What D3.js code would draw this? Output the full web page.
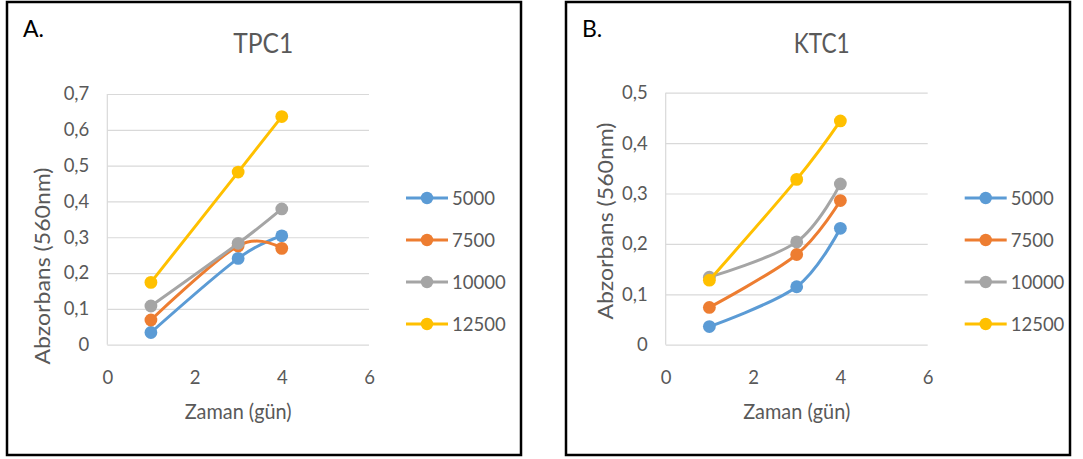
<!DOCTYPE html>
<html>
<head>
<meta charset="utf-8">
<script src="https://cdn.jsdelivr.net/npm/d3@7"></script>
<style>
  html, body { margin: 0; padding: 0; background: #fff; }
  svg { display: block; font-family: Lato, "Open Sans", sans-serif; }
</style>
</head>
<body>
<svg id="chart" width="1083" height="459"></svg>
<script>
// Sampling days (x axis)
const days = [1, 3, 4];

// Series (cell density) names and colours
const seriesNames = ["5000", "7500", "10000", "12500"];
const seriesColors = ["#5B9BD5", "#ED7D31", "#A5A5A5", "#FFC000"];

// TPC1 absorbance at 560 nm
const tpc5000  = [0.034, 0.241, 0.304];
const tpc7500  = [0.069, 0.276, 0.269];
const tpc10000 = [0.108, 0.283, 0.379];
const tpc12500 = [0.174, 0.482, 0.637];

// KTC1 absorbance at 560 nm
const ktc5000  = [0.036, 0.115, 0.231];
const ktc7500  = [0.074, 0.179, 0.286];
const ktc10000 = [0.134, 0.204, 0.319];
const ktc12500 = [0.128, 0.328, 0.444];

// Tick labels
const xTicks = [0, 2, 4, 6];
const tpcYTicks = [0, 0.1, 0.2, 0.3, 0.4, 0.5, 0.6, 0.7];
const ktcYTicks = [0, 0.1, 0.2, 0.3, 0.4, 0.5];

const xTitle = "Zaman (gün)";
const yTitle = "Abzorbans (560nm)";

const svg = d3.select("#chart");
const trLocale = d3.formatLocale({ decimal: ",", thousands: ".", grouping: [3], currency: ["", ""] });
const fmt = trLocale.format(".1~f");

const textGray = "#595959";
const gridGray = "#D9D9D9";

function drawPanel(p) {
  // Panel frame
  svg.append("rect")
    .attr("x", p.frame[0]).attr("y", p.frame[1])
    .attr("width", p.frame[2]).attr("height", p.frame[3])
    .attr("fill", "#fff").attr("stroke", "#000").attr("stroke-width", 2.5);

  const x = d3.scaleLinear().domain([0, 6]).range([p.left, p.right]);
  const y = d3.scaleLinear().domain([0, p.yMax]).range([p.bottom, p.top]);
  const w = p.right - p.left;

  // Horizontal gridlines + value labels
  const gy = svg.append("g").attr("transform", `translate(${p.left},0)`)
    .call(d3.axisLeft(y).tickValues(p.yTicks).tickFormat(fmt).tickSize(-w).tickPadding(18));
  gy.select(".domain").remove();
  gy.selectAll(".tick line").attr("stroke", gridGray).attr("stroke-width", 1.2);
  gy.selectAll(".tick text").attr("fill", textGray).attr("font-size", 18.5)
    .attr("font-family", "Lato, sans-serif");

  // Vertical value axis line at x = 0
  svg.append("line")
    .attr("x1", x(0)).attr("x2", x(0)).attr("y1", y(0)).attr("y2", y(p.yMax))
    .attr("stroke", gridGray).attr("stroke-width", 1.2);

  // Category (day) labels
  const gx = svg.append("g").attr("transform", `translate(0,${p.bottom})`)
    .call(d3.axisBottom(x).tickValues(xTicks).tickFormat(d3.format("d")).tickSize(0).tickPadding(26));
  gx.select(".domain").remove();
  gx.selectAll(".tick text").attr("fill", textGray).attr("font-size", 18.5)
    .attr("font-family", "Lato, sans-serif");

  // Series lines (smoothed) and markers
  const line = d3.line().x((d, i) => x(days[i])).y(d => y(d)).curve(d3.curveCardinal.tension(0));
  p.series.forEach((vals, k) => {
    svg.append("path").datum(vals)
      .attr("d", line).attr("fill", "none")
      .attr("stroke", seriesColors[k]).attr("stroke-width", 3)
      .attr("stroke-linejoin", "round").attr("stroke-linecap", "round");
    svg.append("g").selectAll("circle").data(vals).join("circle")
      .attr("cx", (d, i) => x(days[i])).attr("cy", d => y(d)).attr("r", 6.4)
      .attr("fill", seriesColors[k]);
  });

  // Legend
  const legY = d3.scalePoint().domain(seriesNames).range([198, 324]);
  seriesNames.forEach((name, k) => {
    const ly = legY(name);
    svg.append("line")
      .attr("x1", p.right + 37).attr("x2", p.right + 79).attr("y1", ly).attr("y2", ly)
      .attr("stroke", seriesColors[k]).attr("stroke-width", 3);
    svg.append("circle").attr("cx", p.right + 58).attr("cy", ly).attr("r", 6.2)
      .attr("fill", seriesColors[k]);
    svg.append("text").attr("x", p.right + 83).attr("y", ly).attr("dy", "0.36em")
      .attr("fill", textGray).attr("font-size", 18.5).text(name);
  });

  // Chart title
  svg.append("text").attr("x", p.left + 156).attr("y", 53)
    .attr("text-anchor", "middle").attr("fill", textGray).attr("font-size", 27)
    .attr("textLength", p.titleLen).attr("lengthAdjust", "spacingAndGlyphs")
    .text(p.title);

  // Panel letter
  svg.append("text").attr("x", p.frame[0] + 16).attr("y", 37)
    .attr("fill", "#000").attr("font-size", 23).text(p.letter);

  // Axis titles
  svg.append("text").attr("x", (p.left + p.right) / 2).attr("y", 419)
    .attr("text-anchor", "middle").attr("fill", textGray).attr("font-size", 20.5)
    .attr("textLength", 107).attr("lengthAdjust", "spacingAndGlyphs")
    .text(xTitle);
  svg.append("text")
    .attr("transform", `translate(${p.yTitleX},${p.yTitleY}) rotate(-90)`)
    .attr("text-anchor", "middle").attr("dy", "0.35em")
    .attr("fill", textGray).attr("font-size", 21)
    .attr("textLength", 197).attr("lengthAdjust", "spacingAndGlyphs")
    .text(yTitle);
}

drawPanel({
  frame: [7, 2, 514, 453],
  left: 107.3, right: 369, top: 94, bottom: 344.7,
  yMax: 0.7, yTicks: tpcYTicks,
  series: [tpc5000, tpc7500, tpc10000, tpc12500],
  title: "TPC1", titleLen: 60, letter: "A.",
  yTitleX: 43, yTitleY: 266
});

drawPanel({
  frame: [566, 2, 504, 453],
  left: 665.7, right: 927.7, top: 92.7, bottom: 344.7,
  yMax: 0.5, yTicks: ktcYTicks,
  series: [ktc5000, ktc7500, ktc10000, ktc12500],
  title: "KTC1", titleLen: 56, letter: "B.",
  yTitleX: 606, yTitleY: 221
});
</script>
</body>
</html>
